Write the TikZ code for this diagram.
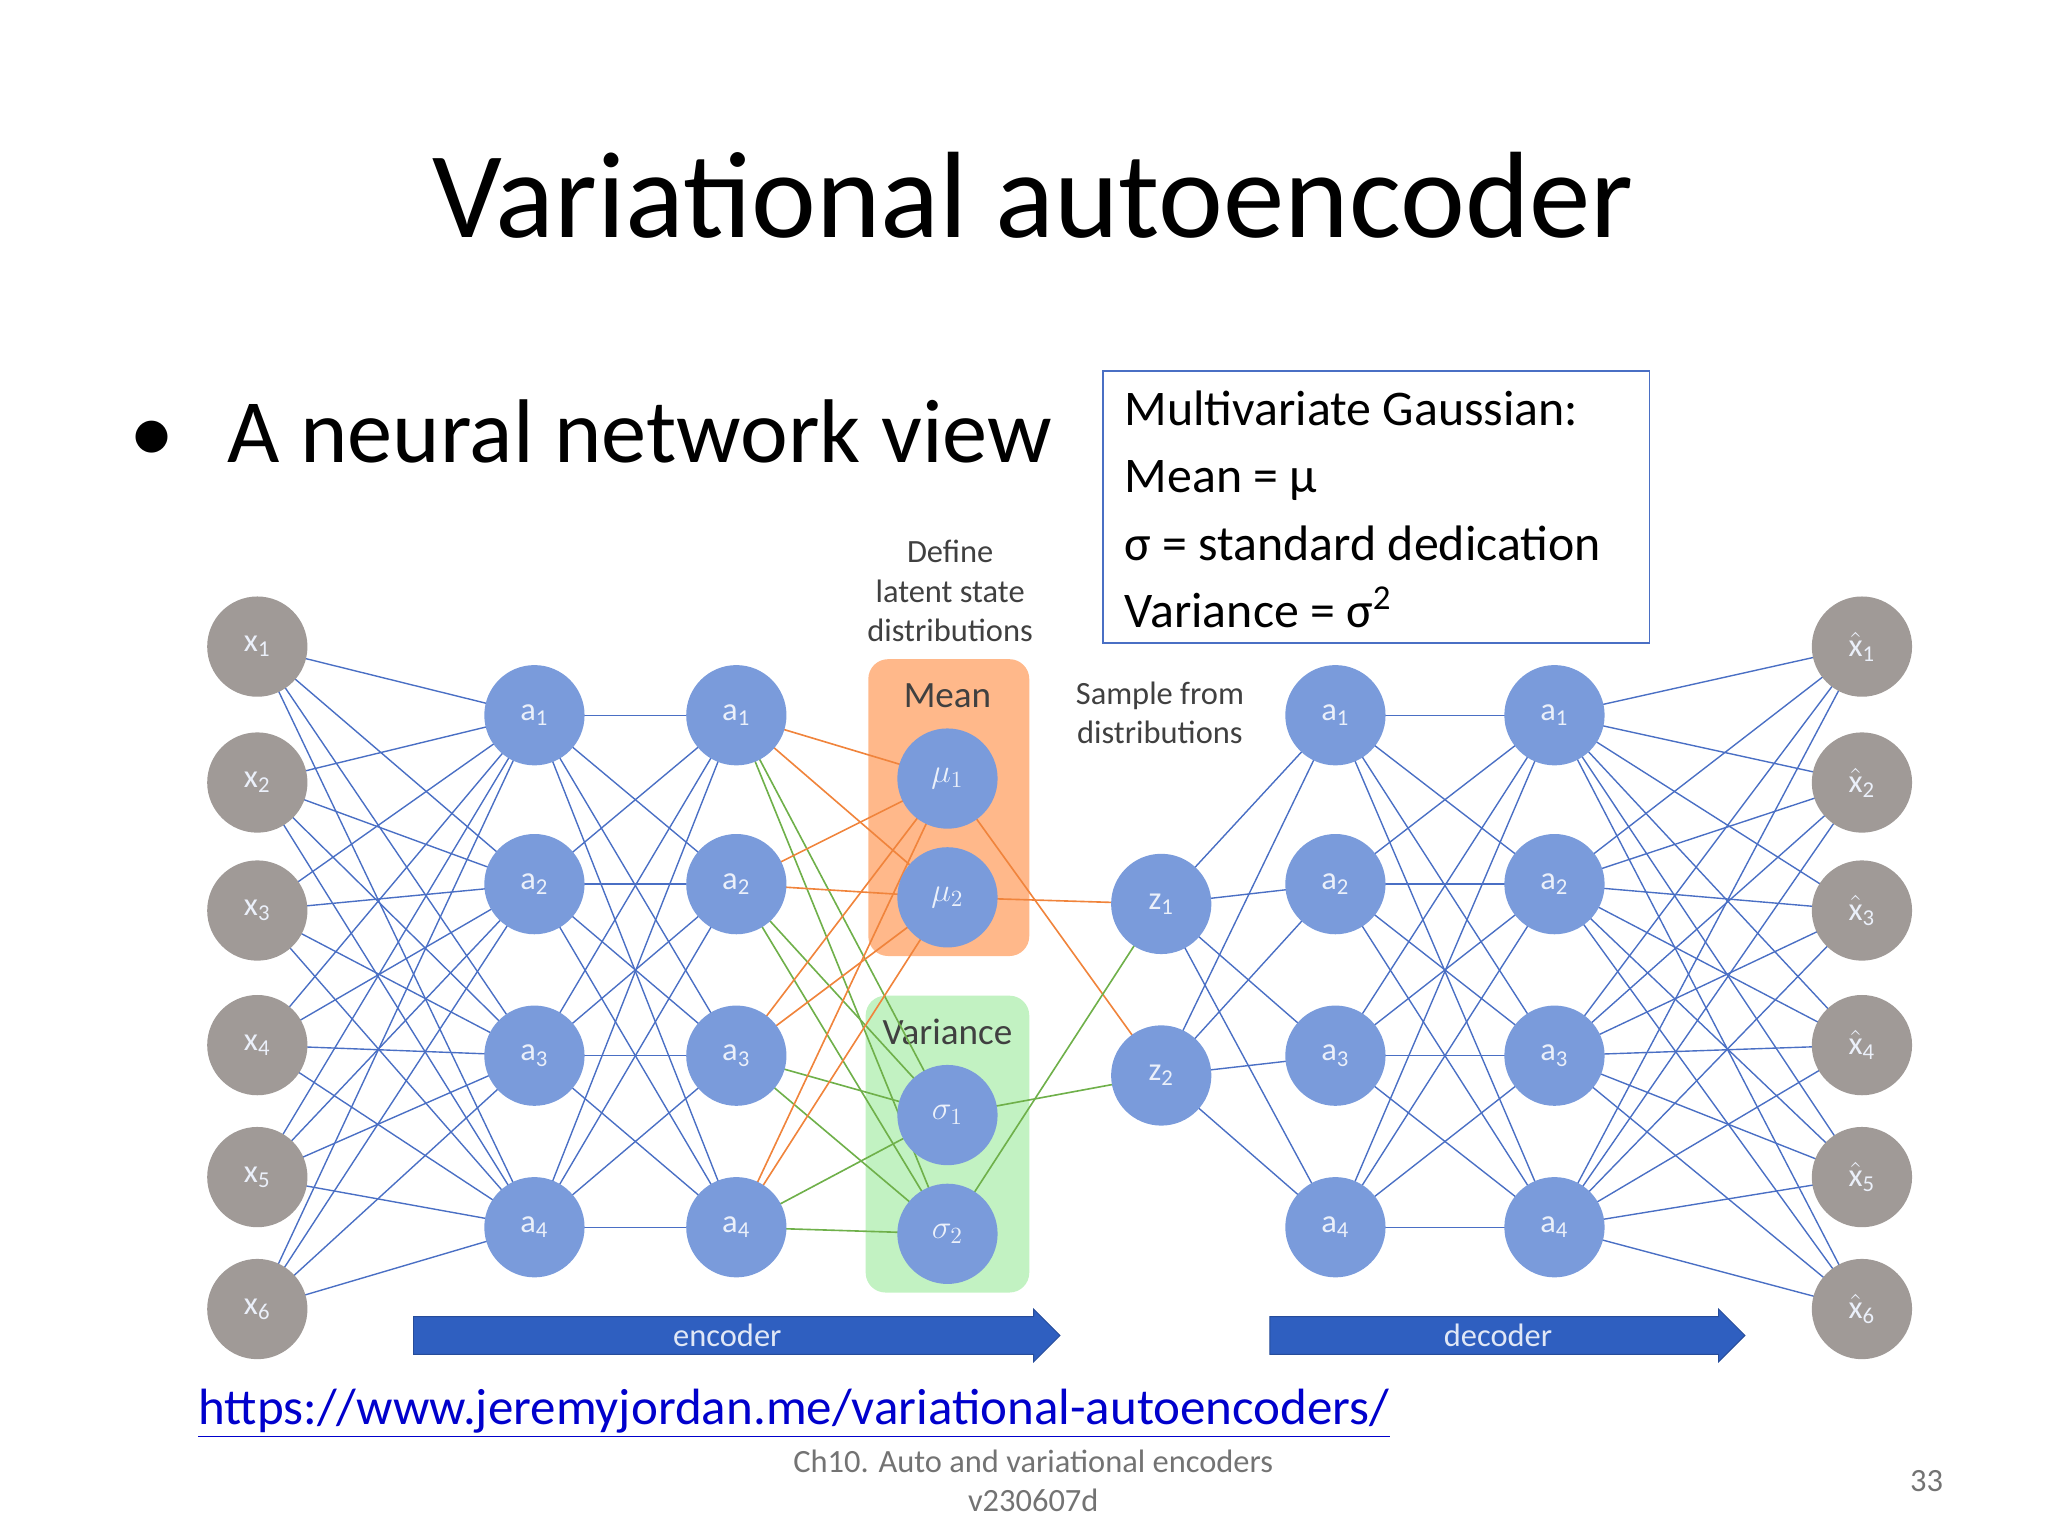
\documentclass[tikz,border=0pt]{standalone}
\usepackage{fontspec}
\setmainfont{Carlito}
\usetikzlibrary{shapes.arrows}
\definecolor{nodeblue}{HTML}{7A9BDB}
\definecolor{nodegray}{HTML}{A09A97}
\definecolor{lineblue}{HTML}{4A6FC4}
\definecolor{lorange}{HTML}{F0843C}
\definecolor{lgreen}{HTML}{6FB04A}
\definecolor{arrowblue}{HTML}{2F5FC0}
\begin{document}
\begin{tikzpicture}[x=0.02cm,y=-0.02cm,
  neu/.style={circle,fill=nodeblue,minimum size=1.52cm,inner sep=0pt,text=white!85!nodeblue,font=\fontsize{14}{14}\selectfont},
  inp/.style={neu,fill=nodegray},
  con/.style={lineblue,line width=0.6pt},
  ocon/.style={lorange,line width=0.7pt},
  gcon/.style={lgreen,line width=0.7pt},
  lbl/.style={font=\fontsize{14}{17}\selectfont,text=black!75,align=center},
  bigarrow/.style={single arrow,fill=arrowblue,draw=arrowblue!80!black,minimum height=#1,minimum width=0.8cm,single arrow head extend=0.1cm,inner sep=2pt,font=\fontsize{14}{14}\selectfont,text=white!85!arrowblue}]
\useasboundingbox (0,0) rectangle (1552,1164);
\node[font=\fontsize{53}{58}\selectfont] (title) at (783,148) {Variational autoencoder};
\node[font=\fontsize{39}{44}\selectfont,anchor=west] (bul) at (92,327) {•\hspace{0.8cm}A neural network view};
\draw[lineblue,line width=0.8pt] (836,281) rectangle (1250,487);
\node[anchor=north west,align=left,font=\fontsize{21.5}{29}\selectfont,inner sep=0pt] (box) at (852,296) {Multivariate Gaussian:\\Mean = μ\\σ = standard dedication\\Variance = σ\textsuperscript{2}};
% background boxes
\node[fill=orange!40!white!90!red,rounded corners=0.3cm,minimum width=2.44cm,minimum height=4.5cm] (meanbox) at (719,612) {};
\node[fill=green!20!white!95!black,rounded corners=0.3cm,minimum width=2.48cm,minimum height=4.5cm] (varbox) at (718,867) {};
\node[lbl,font=\fontsize{16}{16}\selectfont] (meanl) at (718,527) {Mean};
\node[lbl,font=\fontsize{16}{16}\selectfont] (varl) at (718,782) {Variance};
\node[lbl] (def) at (720,448) {Define\\latent state\\distributions};
\node[lbl] (samp) at (879,540) {Sample from\\distributions};
% connections
\foreach \i/\y in {1/490,2/593,3/690,4/792,5/892,6/992}{
  \coordinate (x\i) at (195,\y); \coordinate (o\i) at (1411,\y);}
\foreach \i/\y in {1/542,2/670,3/800,4/930}{
  \coordinate (e\i) at (405,\y); \coordinate (f\i) at (558,\y);
  \coordinate (d\i) at (1012,\y); \coordinate (g\i) at (1178,\y);}
\coordinate (m1) at (718,590); \coordinate (m2) at (718,680);
\coordinate (s1) at (718,845); \coordinate (s2) at (718,935);
\coordinate (z1) at (880,685); \coordinate (z2) at (880,815);
\foreach \i in {1,...,6}{\foreach \j in {1,...,4}{
  \draw[con] (x\i) -- (e\j); \draw[con] (g\j) -- (o\i);}}
\foreach \i in {1,...,4}{\foreach \j in {1,...,4}{
  \draw[con] (e\i) -- (f\j); \draw[con] (d\i) -- (g\j);}}
\foreach \i in {1,...,4}{
  \draw[ocon] (f\i) -- (m1); \draw[ocon] (f\i) -- (m2);
  \draw[gcon] (f\i) -- (s1); \draw[gcon] (f\i) -- (s2);
  \draw[con] (z1) -- (d\i); \draw[con] (z2) -- (d\i);}
\draw[ocon] (m1) -- (z2); \draw[ocon] (m2) -- (z1);
\draw[gcon] (s1) -- (z2); \draw[gcon] (s2) -- (z1);
% nodes
\foreach \i/\y in {1/490,2/593,3/690,4/792,5/892,6/992}{
  \node[inp] (nx\i) at (x\i) {x\textsubscript{\i}};
  \node[inp] (no\i) at (o\i) {$\hat{\hbox{x}}$\textsubscript{\i}};}
\foreach \i/\y in {1/542,2/670,3/800,4/930}{
  \node[neu] (ne\i) at (e\i) {a\textsubscript{\i}};
  \node[neu] (nf\i) at (f\i) {a\textsubscript{\i}};
  \node[neu] (nd\i) at (d\i) {a\textsubscript{\i}};
  \node[neu] (ng\i) at (g\i) {a\textsubscript{\i}};}
\node[neu] (nm1) at (m1) {$\mu_1$};
\node[neu] (nm2) at (m2) {$\mu_2$};
\node[neu] (ns1) at (s1) {$\sigma_1$};
\node[neu] (ns2) at (s2) {$\sigma_2$};
\node[neu] (nz1) at (z1) {z\textsubscript{1}};
\node[neu] (nz2) at (z2) {z\textsubscript{2}};
\node[bigarrow=9.8cm,anchor=west] (enc) at (313,1012) {encoder};
\node[bigarrow=7.2cm,anchor=west] (dec) at (962,1012) {decoder};
\node[anchor=west,text=blue!80!black,font=\fontsize{22}{22}\selectfont,inner sep=0pt] (link) at (150,1071) {\underline{https://www.jeremyjordan.me/variational-autoencoders/}};
\node[text=black!55,align=center,font=\fontsize{14}{17}\selectfont] (foot) at (783,1122) {Ch10. Auto and variational encoders\\v230607d};
\node[text=black!55,font=\fontsize{14}{14}\selectfont] (pg) at (1460,1122) {33};
\end{tikzpicture}
\end{document}
